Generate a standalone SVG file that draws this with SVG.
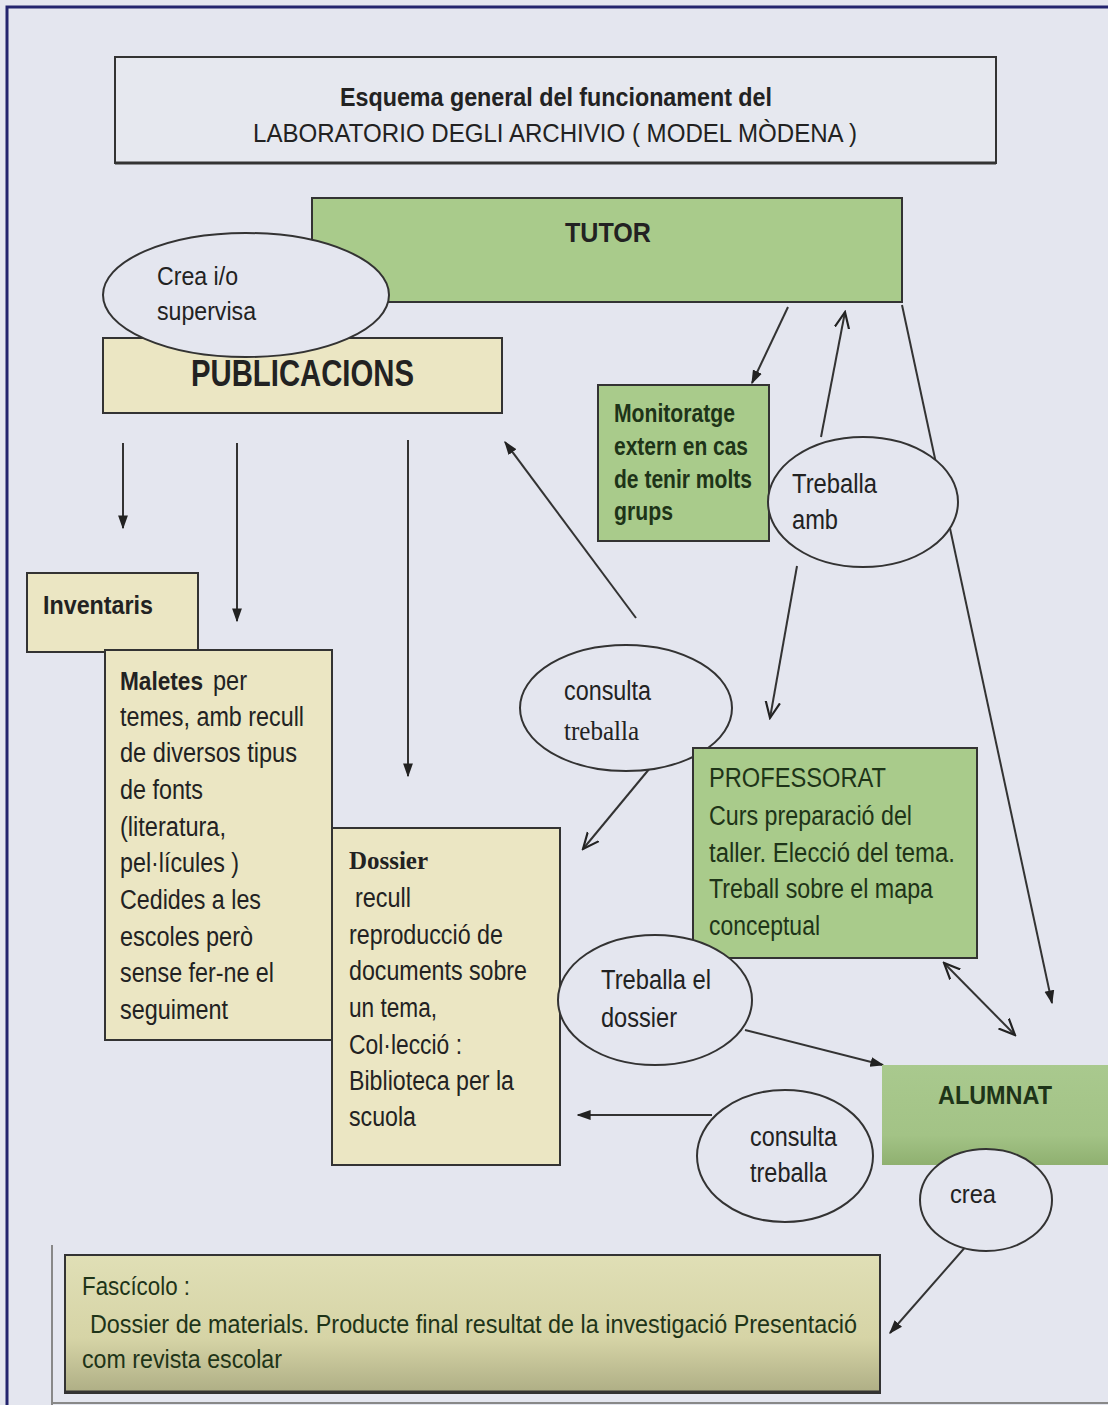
<svg xmlns="http://www.w3.org/2000/svg" width="1108" height="1405" viewBox="0 0 1108 1405">
<defs>
<style>
text{font-family:"Liberation Sans",Arial,sans-serif;fill:#222;}
.t26{font-size:26px;}
.t27{font-size:27px;}
.b{font-weight:bold;}
.serif{font-family:"Liberation Serif","Times New Roman",serif;}
.box{stroke:#333;stroke-width:2;}
.green{fill:#a9cb8b;}
.beige{fill:#ebe6c3;}
.ell{fill:#e4e6ef;stroke:#333;stroke-width:2;}
.con{stroke:#333;stroke-width:2;fill:none;}
.gt{fill:#1e3418;}
</style>
<marker id="fillL" viewBox="0 0 10 10" refX="9" refY="5" markerWidth="14" markerHeight="14" orient="auto" markerUnits="userSpaceOnUse">
<path d="M0,1.5 L10,5 L0,8.5 z" fill="#222"/>
</marker>
<marker id="open" viewBox="0 0 10 10" refX="9" refY="5" markerWidth="18" markerHeight="18" orient="auto" markerUnits="userSpaceOnUse">
<path d="M0,1 L9,5 L0,9" fill="none" stroke="#222" stroke-width="1.2"/>
</marker>
<marker id="openS" viewBox="0 0 10 10" refX="1" refY="5" markerWidth="18" markerHeight="18" orient="auto" markerUnits="userSpaceOnUse">
<path d="M10,1 L1,5 L10,9" fill="none" stroke="#222" stroke-width="1.2"/>
</marker>
<linearGradient id="gAl" x1="0" y1="0" x2="0" y2="1">
<stop offset="0" stop-color="#a9c98e"/>
<stop offset="0.7" stop-color="#a3c386"/>
<stop offset="1" stop-color="#8fb070"/>
</linearGradient>
<linearGradient id="gFa" x1="0" y1="0" x2="0" y2="1">
<stop offset="0" stop-color="#e0dfb6"/>
<stop offset="0.6" stop-color="#d6d4a6"/>
<stop offset="1" stop-color="#aeae85"/>
</linearGradient>
</defs>
<rect x="0" y="0" width="1108" height="1405" fill="#e4e6ef"/>
<path d="M7,1405 L7,7 L1108,7" fill="none" stroke="#23246e" stroke-width="3"/>
<line x1="52" y1="1245" x2="52" y2="1405" stroke="#888" stroke-width="2"/>
<line x1="52" y1="1403" x2="1108" y2="1403" stroke="#888" stroke-width="2"/>

<g id="title">
<rect x="115" y="57" width="881" height="106" fill="#e6e8ef" stroke="#333" stroke-width="2"/>
<line x1="115" y1="163" x2="996" y2="163" stroke="#333" stroke-width="3"/>
<text x="340" y="106" class="t26" textLength="432" lengthAdjust="spacingAndGlyphs" style="font-weight:600">Esquema general del funcionament del</text>
<text x="253" y="142" class="t26" textLength="604" lengthAdjust="spacingAndGlyphs">LABORATORIO DEGLI  ARCHIVIO ( MODEL MÒDENA )</text>
</g>

<g id="connectors">
<line class="con" x1="788" y1="307" x2="752" y2="383" marker-end="url(#fillL)"/>
<line class="con" x1="821" y1="437" x2="845" y2="312" marker-end="url(#open)"/>
<line class="con" x1="902" y1="305" x2="1052" y2="1003" marker-end="url(#fillL)"/>
<line class="con" x1="797" y1="566" x2="770" y2="718" marker-end="url(#open)"/>
<line class="con" x1="123" y1="443" x2="123" y2="528" marker-end="url(#fillL)"/>
<line class="con" x1="237" y1="443" x2="237" y2="621" marker-end="url(#fillL)"/>
<line class="con" x1="408" y1="440" x2="408" y2="776" marker-end="url(#fillL)"/>
<line class="con" x1="636" y1="618" x2="505" y2="442" marker-end="url(#fillL)"/>
<line class="con" x1="650" y1="768" x2="583" y2="849" marker-end="url(#open)"/>
<line class="con" x1="944" y1="963" x2="1015" y2="1035" marker-start="url(#openS)" marker-end="url(#open)"/>
<line class="con" x1="745" y1="1030" x2="883" y2="1065" marker-end="url(#fillL)"/>
<line class="con" x1="712" y1="1115" x2="578" y2="1115" marker-end="url(#fillL)"/>
<line class="con" x1="982" y1="1228" x2="890" y2="1333" marker-end="url(#fillL)"/>
</g>

<g id="tutor">
<rect x="312" y="198" width="590" height="104" class="box green"/>
<text x="565" y="242" class="b" style="font-size:28px" textLength="86" lengthAdjust="spacingAndGlyphs">TUTOR</text>
</g>

<g id="publicacions">
<rect x="103" y="338" width="399" height="75" class="box beige"/>
<text x="191" y="386" class="b" style="font-size:36px" textLength="223" lengthAdjust="spacingAndGlyphs">PUBLICACIONS</text>
</g>

<g id="crea-supervisa">
<ellipse cx="246" cy="295" rx="143" ry="62" class="ell"/>
<text x="157" y="285" class="t26" textLength="81" lengthAdjust="spacingAndGlyphs">Crea i/o</text>
<text x="157" y="320" class="t26" textLength="99" lengthAdjust="spacingAndGlyphs">supervisa</text>
</g>

<g id="monitoratge">
<rect x="598" y="385" width="171" height="156" class="box green"/>
<g class="b t26">
<text x="614" y="422" class="gt" textLength="121" lengthAdjust="spacingAndGlyphs">Monitoratge</text>
<text x="614" y="455" class="gt" textLength="134" lengthAdjust="spacingAndGlyphs">extern en cas</text>
<text x="614" y="488" class="gt" textLength="138" lengthAdjust="spacingAndGlyphs">de tenir molts</text>
<text x="614" y="520" class="gt" textLength="59" lengthAdjust="spacingAndGlyphs">grups</text>
</g>
</g>

<g id="treballa-amb">
<ellipse cx="863" cy="502" rx="95" ry="65" class="ell"/>
<text x="792" y="493" class="t27" textLength="85" lengthAdjust="spacingAndGlyphs">Treballa</text>
<text x="792" y="529" class="t27" textLength="46" lengthAdjust="spacingAndGlyphs">amb</text>
</g>

<g id="inventaris">
<rect x="27" y="573" width="171" height="79" class="box beige"/>
<text x="43" y="614" class="b t26" textLength="110" lengthAdjust="spacingAndGlyphs">Inventaris</text>
</g>

<g id="maletes">
<rect x="105" y="650" width="227" height="390" class="box beige"/>
<g class="t27">
<text x="120" y="690" class="b" style="font-size:25px" textLength="83" lengthAdjust="spacingAndGlyphs">Maletes</text>
<text x="213" y="690" textLength="34" lengthAdjust="spacingAndGlyphs">per</text>
<text x="120" y="726" textLength="184" lengthAdjust="spacingAndGlyphs">temes, amb recull</text>
<text x="120" y="762" textLength="177" lengthAdjust="spacingAndGlyphs">de diversos tipus</text>
<text x="120" y="799" textLength="83" lengthAdjust="spacingAndGlyphs">de fonts</text>
<text x="120" y="836" textLength="106" lengthAdjust="spacingAndGlyphs">(literatura,</text>
<text x="120" y="872" textLength="119" lengthAdjust="spacingAndGlyphs">pel·lícules )</text>
<text x="120" y="909" textLength="141" lengthAdjust="spacingAndGlyphs">Cedides a les</text>
<text x="120" y="946" textLength="133" lengthAdjust="spacingAndGlyphs">escoles però</text>
<text x="120" y="982" textLength="154" lengthAdjust="spacingAndGlyphs">sense fer-ne el</text>
<text x="120" y="1019" textLength="108" lengthAdjust="spacingAndGlyphs">seguiment</text>
</g>
</g>

<g id="dossier">
<rect x="332" y="828" width="228" height="337" class="box beige"/>
<text x="349" y="869" class="serif b" style="font-size:26px" textLength="79" lengthAdjust="spacingAndGlyphs">Dossier</text>
<g class="t27">
<text x="355" y="907" textLength="56" lengthAdjust="spacingAndGlyphs">recull</text>
<text x="349" y="944" textLength="154" lengthAdjust="spacingAndGlyphs">reproducció de</text>
<text x="349" y="980" textLength="178" lengthAdjust="spacingAndGlyphs">documents sobre</text>
<text x="349" y="1017" textLength="88" lengthAdjust="spacingAndGlyphs">un tema,</text>
<text x="349" y="1054" textLength="113" lengthAdjust="spacingAndGlyphs">Col·lecció :</text>
<text x="349" y="1090" textLength="165" lengthAdjust="spacingAndGlyphs">Biblioteca per la</text>
<text x="349" y="1126" textLength="67" lengthAdjust="spacingAndGlyphs">scuola</text>
</g>
</g>

<g id="consulta-treballa-1">
<ellipse cx="626" cy="708" rx="106" ry="63" class="ell"/>
<text x="564" y="700" class="t27" textLength="87" lengthAdjust="spacingAndGlyphs">consulta</text>
<text x="564" y="740" class="serif" style="font-size:27px" textLength="75" lengthAdjust="spacingAndGlyphs">treballa</text>
</g>

<g id="professorat">
<rect x="693" y="748" width="284" height="210" class="box green"/>
<g class="t27">
<text x="709" y="787" class="gt" textLength="177" lengthAdjust="spacingAndGlyphs">PROFESSORAT</text>
<text x="709" y="825" class="gt" textLength="203" lengthAdjust="spacingAndGlyphs">Curs preparació del</text>
<text x="709" y="862" class="gt" textLength="246" lengthAdjust="spacingAndGlyphs">taller.  Elecció del tema.</text>
<text x="709" y="898" class="gt" textLength="224" lengthAdjust="spacingAndGlyphs">Treball sobre el mapa</text>
<text x="709" y="935" class="gt" textLength="111" lengthAdjust="spacingAndGlyphs">conceptual</text>
</g>
</g>

<g id="treballa-dossier">
<ellipse cx="655" cy="1000" rx="97" ry="65" class="ell"/>
<text x="601" y="989" class="t27" textLength="110" lengthAdjust="spacingAndGlyphs">Treballa el</text>
<text x="601" y="1027" class="t27" textLength="76" lengthAdjust="spacingAndGlyphs">dossier</text>
</g>

<g id="alumnat">
<rect x="882" y="1065" width="226" height="100" fill="url(#gAl)"/>
<text x="938" y="1104" class="b t26 gt" textLength="114" lengthAdjust="spacingAndGlyphs">ALUMNAT</text>
</g>

<g id="consulta-treballa-2">
<ellipse cx="785" cy="1156" rx="88" ry="66" class="ell"/>
<text x="750" y="1146" class="t27" textLength="87" lengthAdjust="spacingAndGlyphs">consulta</text>
<text x="750" y="1182" class="t27" textLength="77" lengthAdjust="spacingAndGlyphs">treballa</text>
</g>

<g id="crea">
<ellipse cx="986" cy="1200" rx="66" ry="51" class="ell"/>
<text x="950" y="1203" class="t26" textLength="46" lengthAdjust="spacingAndGlyphs">crea</text>
</g>

<g id="fascicolo">
<rect x="65" y="1255" width="815" height="138" fill="url(#gFa)" stroke="#333" stroke-width="2"/>
<line x1="65" y1="1392" x2="880" y2="1392" stroke="#333" stroke-width="3"/>
<g class="t26">
<text x="82" y="1295" class="gt" textLength="108" lengthAdjust="spacingAndGlyphs">Fascícolo :</text>
<text x="90" y="1333" class="gt" textLength="767" lengthAdjust="spacingAndGlyphs">Dossier de materials. Producte final resultat de la  investigació Presentació</text>
<text x="82" y="1368" class="gt" textLength="200" lengthAdjust="spacingAndGlyphs">com revista escolar</text>
</g>
</g>
</svg>
